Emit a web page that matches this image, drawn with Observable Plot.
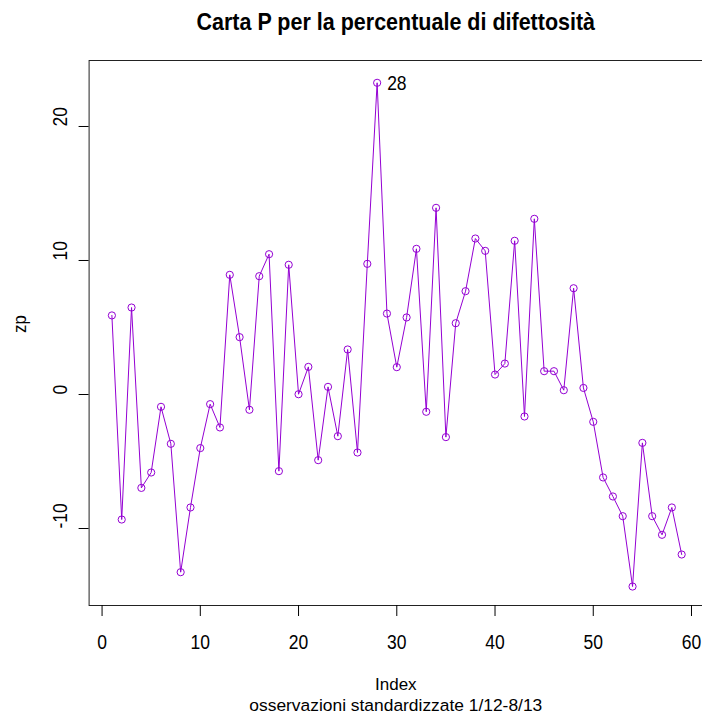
<!DOCTYPE html>
<html>
<head>
<meta charset="utf-8">
<script src="https://cdn.jsdelivr.net/npm/d3@7"></script>
<script src="https://cdn.jsdelivr.net/npm/@observablehq/plot@0.6"></script>
<style>
  html, body { margin: 0; padding: 0; background: white; }
</style>
</head>
<body>
<div id="chart"></div>
<script>
const zp = [5.9, -9.33, 6.49, -6.97, -5.82, -0.92, -3.68, -13.26, -8.43, -4.0,
  -0.72, -2.46, 8.93, 4.28, -1.14, 8.83, 10.47, -5.72, 9.68, 0.02,
  2.06, -4.9, 0.57, -3.11, 3.36, -4.33, 9.75, 23.26, 6.04, 2.04,
  5.75, 10.87, -1.29, 13.93, -3.18, 5.32, 7.71, 11.64, 10.72, 1.49,
  2.31, 11.47, -1.64, 13.11, 1.74, 1.74, 0.32, 7.93, 0.49, -2.04,
  -6.19, -7.61, -9.08, -14.33, -3.61, -9.08, -10.47, -8.43, -11.94];
const xTicks = [0, 10, 20, 30, 40, 50, 60];
const yTicks = [-10, 0, 10, 20];
const labelled = [28];
const title = "Carta P per la percentuale di difettosità";
const xLabel = "Index";
const subLabel = "osservazioni standardizzate 1/12-8/13";
const yLabel = "zp";

const data = zp.map((v, i) => ({index: i + 1, zp: v}));
const col = "#9400D3";
const font = "'Liberation Sans', Arial, Helvetica, sans-serif";
const fs = 17.5;

const chart = Plot.plot({
  width: 702,
  height: 716,
  marginLeft: 88.6,
  marginRight: 0,
  marginTop: 60,
  marginBottom: 111,
  x: {domain: [-1.32, 61.12], axis: null},
  y: {domain: [-15.746, 24.925], axis: null},
  style: {fontFamily: font, background: "white", color: "black"},
  marks: [
    Plot.frame({stroke: "#222", strokeWidth: 1}),
    Plot.axisX({ticks: xTicks, tickSize: 11, text: null, label: null, anchor: "bottom"}),
    Plot.text(xTicks, {x: d => d, text: d => String(d), frameAnchor: "bottom", lineAnchor: "middle", dy: 37, fontSize: fs, className: "stretch"}),
    Plot.axisY({ticks: yTicks, tickSize: 10, text: null, label: null, anchor: "left"}),
    Plot.text(yTicks, {y: d => d, text: d => String(d), frameAnchor: "left", lineAnchor: "middle", dx: -29, rotate: -90, fontSize: fs, className: "stretch"}),
    Plot.line(data, {x: "index", y: "zp", stroke: col, strokeWidth: 1}),
    Plot.dot(data, {x: "index", y: "zp", r: 3.6, stroke: col, strokeWidth: 1, fill: "none"}),
    Plot.text(data.filter(d => labelled.includes(d.index)), {x: "index", y: "zp", text: d => String(d.index), textAnchor: "start", lineAnchor: "middle", dx: 10, dy: 1, fontSize: fs, className: "stretch"}),
    Plot.text([title], {frameAnchor: "top", lineAnchor: "middle", dy: -38.5, fontWeight: "bold", fontSize: 21.5, className: "stretch"}),
    Plot.text([xLabel], {frameAnchor: "bottom", lineAnchor: "middle", dy: 79, fontSize: 17}),
    Plot.text([subLabel], {frameAnchor: "bottom", lineAnchor: "middle", dy: 100, fontSize: 17.4}),
    Plot.text([yLabel], {frameAnchor: "left", lineAnchor: "middle", dx: -69, rotate: -90, fontSize: 16.8, className: "stretch"})
  ]
});
document.getElementById("chart").appendChild(chart);

// The reference glyphs are taller than Arial's: stretch these texts along their own vertical axis.
const k = 1.14;
chart.querySelectorAll(".stretch text").forEach(t => {
  const b = t.getBBox();
  const cy = b.y + b.height / 2;
  const prev = t.getAttribute("transform") || "";
  t.setAttribute("transform", `${prev} translate(0,${cy}) scale(1,${k}) translate(0,${-cy})`.trim());
});
</script>
</body>
</html>
